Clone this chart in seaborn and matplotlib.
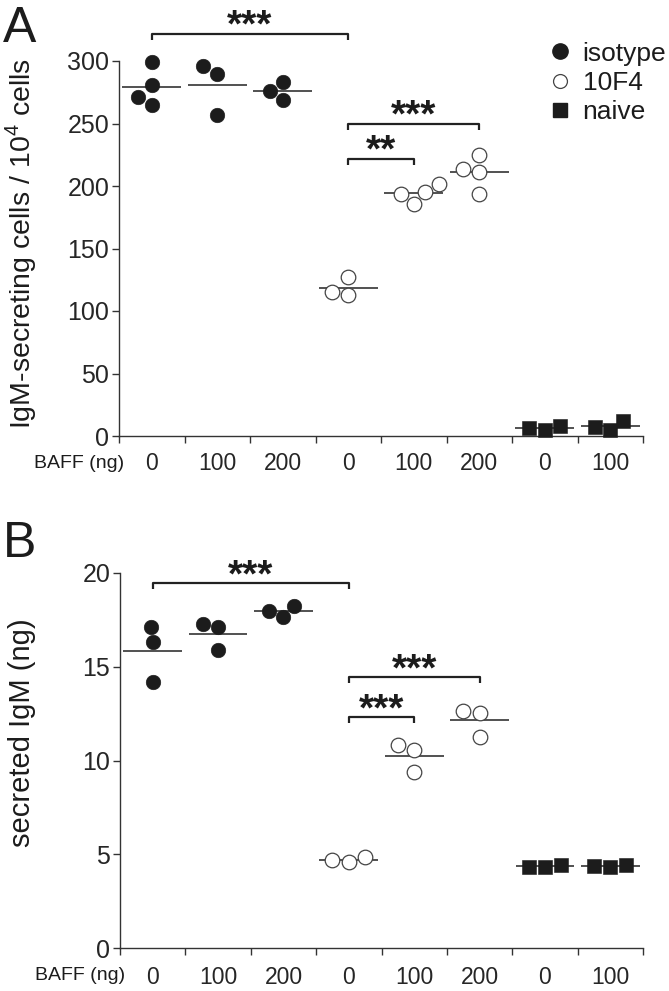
import matplotlib
matplotlib.use("Agg")
import matplotlib.pyplot as plt
from matplotlib.lines import Line2D
import seaborn as sns
import numpy as np
import pandas as pd

# categories along the x axis (treatment, BAFF dose)
groups = ['isotype', 'isotype', 'isotype', '10F4', '10F4', '10F4', 'naive', 'naive']
baff_labels = ['0', '100', '200', '0', '100', '200', '0', '100']

# panel A: IgM-secreting cells / 10^4 cells, one list per category
cells_values = [
    [271, 299, 265, 281],
    [296, 290, 257],
    [276, 269, 283],
    [115, 113, 127],
    [194, 202, 186, 195],
    [214, 211, 194, 225],
    [6.4, 4.8, 8.0],
    [7.2, 4.8, 12.0],
]

# panel B: secreted IgM (ng)
igm_values = [
    [17.1, 16.3, 14.2],
    [17.3, 17.1, 15.9],
    [18.0, 17.65, 18.25],
    [4.69, 4.59, 4.85],
    [10.56, 10.83, 9.39],
    [12.64, 12.53, 11.25],
    [4.32, 4.32, 4.43],
    [4.37, 4.32, 4.42],
]

# significance brackets: (from category, to category, height, stars)
cells_brackets = [(0, 3, 322, '***'), (3, 5, 250, '***'), (3, 4, 222, '**')]
igm_brackets = [(0, 3, 19.45, '***'), (3, 5, 14.45, '***'), (3, 4, 12.3, '***')]

INK = '#1c1c1c'
styles = {
    'isotype': dict(marker='o', color=INK, edgecolor=INK, linewidth=0.4),
    '10F4': dict(marker='o', color='white', edgecolor='#444444', linewidth=0.9),
    'naive': dict(marker='s', color=INK, edgecolor=INK, linewidth=0.4),
}

sns.set_style('ticks')
plt.rcParams['font.family'] = ['Liberation Sans', 'DejaVu Sans']
plt.rcParams['mathtext.fontset'] = 'custom'
plt.rcParams['mathtext.rm'] = 'Liberation Sans'
plt.rcParams['text.color'] = INK

conds = [f'{g} {b}' for g, b in zip(groups, baff_labels)]


def make_frame(values):
    rows = []
    for cond, grp, vals in zip(conds, groups, values):
        for v in vals:
            rows.append({'cond': cond, 'group': grp, 'value': v})
    return pd.DataFrame(rows)


def draw_panel(ax, values, brackets, ymax, ystep, drop, xlabel_pad):
    df = make_frame(values)
    for grp, st in styles.items():
        sub = df[df['group'] == grp]
        sns.swarmplot(data=sub, x='cond', y='value', order=conds, ax=ax,
                      size=10.5, zorder=3, clip_on=False, **st)
    means = df.groupby('cond')['value'].mean().reindex(conds).values
    ax.hlines(means, np.arange(len(conds)) - 0.45, np.arange(len(conds)) + 0.45,
              color='#333333', lw=1.2, zorder=2)

    ax.set_xlim(-0.5, len(conds) - 0.5)
    ax.set_ylim(0, ymax)
    ax.set_yticks(np.arange(0, ymax + ystep / 2, ystep))
    ax.set_xticks(range(len(conds)))
    ax.set_xticklabels(baff_labels, fontsize=16.5)
    ax.set_xticks(np.arange(-0.5, len(conds)), minor=True)
    ax.tick_params(axis='x', which='major', length=0, pad=xlabel_pad)
    ax.tick_params(axis='x', which='minor', length=5, width=1, color='#333333')
    ax.tick_params(axis='y', length=5, width=1, color='#333333', pad=2, labelsize=18)
    ax.set_xlabel('')
    ax.set_ylabel('')
    for side in ['top', 'right']:
        ax.spines[side].set_visible(False)
    for side in ['left', 'bottom']:
        ax.spines[side].set_color('#333333')
        ax.spines[side].set_linewidth(1)

    for a, b, y, stars in brackets:
        ax.plot([a, a, b, b], [y - drop, y, y, y - drop], color='#222222',
                lw=1.6, clip_on=False, solid_capstyle='butt')
        ax.annotate(stars, xy=((a + b) / 2, y), xytext=(0, -2.5),
                    textcoords='offset points', ha='center', va='baseline',
                    fontsize=28, fontweight='bold', annotation_clip=False)

    ax.annotate('BAFF (ng)', xy=(0, 0), xycoords='axes fraction',
                xytext=(4, -19.5), textcoords='offset points',
                ha='right', va='center', fontsize=14)


fig = plt.figure(figsize=(6.69, 9.91), dpi=100)
W, H = 669, 991
axA = fig.add_axes([119 / W, 555 / H, 524 / W, 375 / H])
axB = fig.add_axes([120 / W, 43 / H, 523 / W, 375 / H])

draw_panel(axA, cells_values, cells_brackets, 300, 50, 5, 11.5)
draw_panel(axB, igm_values, igm_brackets, 20, 5, 0.32, 13)

fig.text(21 / W, 1 - 243 / H, 'IgM-secreting cells / 10$^{4}$ cells',
         rotation=90, ha='center', va='center', fontsize=20.5)
fig.text(22 / W, 1 - 733 / H, 'secreted IgM (ng)',
         rotation=90, ha='center', va='center', fontsize=21)
fig.text(3 / W, 1 - 6 / H, 'A', ha='left', va='top', fontsize=36)
fig.text(3 / W, 1 - 521 / H, 'B', ha='left', va='top', fontsize=36)

handles = [
    Line2D([], [], ls='', marker='o', markersize=11, markerfacecolor=INK,
           markeredgecolor=INK),
    Line2D([], [], ls='', marker='o', markersize=10, markerfacecolor='white',
           markeredgecolor='#444444', markeredgewidth=0.9),
    Line2D([], [], ls='', marker='s', markersize=9.5, markerfacecolor=INK,
           markeredgecolor=INK),
]
axA.legend(handles, ['isotype', '10F4', 'naive'], loc='upper left',
           bbox_to_anchor=(539 / W, 1 - 31 / H), bbox_transform=fig.transFigure,
           frameon=False, fontsize=19, handlelength=0.8, handletextpad=0.45,
           labelspacing=0.2, borderaxespad=0)

fig.savefig('out.png', dpi=100)
